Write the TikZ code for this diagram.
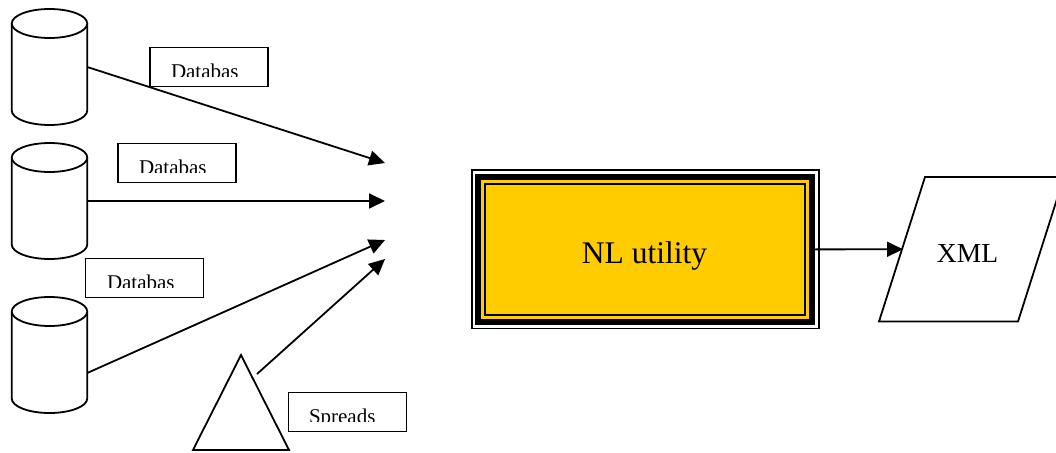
\documentclass[tikz,border=0pt]{standalone}
\usepackage{fontspec}
\setmainfont{Liberation Serif}
\usetikzlibrary{arrows.meta,calc,shapes.geometric}
\definecolor{nlyellow}{HTML}{FFCC00}
\tikzset{
  every node/.style={inner sep=0pt,outer sep=0pt},
  ln/.style={line width=1.8pt,draw=black},
  cylarea/.style={minimum width=75.5pt,minimum height=116pt},
  conn/.style={line width=1.8pt,-{Triangle[length=16pt,width=15pt]}},
  labelbox/.style={ln,fill=white,minimum width=118pt,minimum height=39pt},
  labeltext/.style={anchor=base west,font=\fontsize{21}{25}\selectfont},
}
\newcommand{\cliplabel}[5]{% name, box centre, text pos, clip y, text
  \node[labelbox] (#1) at (#2) {};
  \begin{scope}
    \clip (#1.north west) rectangle (#1.east |- 0,#4);
    \node[labeltext] (#1t) at (#3) {#5};
  \end{scope}
}
\newcommand{\cylshape}[2]{% name, centre
  \node[cylarea] (#1) at (#2) {};
  \coordinate (#1a) at ($(#1.north west)+(0,14.5)$);
  \coordinate (#1b) at ($(#1.south west)+(0,-14.5)$);
  \coordinate (#1c) at ($(#1.north)+(0,14.5)$);
  \draw[ln,fill=white] (#1a) -- (#1b)
    .. controls +(0,8) and +(-20.8,0) .. (#1.south)
    .. controls +(20.8,0) and +(0,8) .. ($(#1.south east)+(0,-14.5)$)
    -- ($(#1.north east)+(0,14.5)$);
  \draw[ln,fill=white] (#1c) ellipse[x radius=37.75pt,y radius=14.5pt];
}
\begin{document}
\begin{tikzpicture}[x=1pt,y=-1pt]
\path[clip] (0,0) rectangle (1056,452);
\fill[white] (0,0) rectangle (1056,452);
% cylinders
\cylshape{db1}{49.5,67}
\cylshape{db2}{49.5,201}
\cylshape{db3}{49.5,355}
% triangle
\node[ln,fill=white,isosceles triangle,shape border rotate=90,isosceles triangle stretches,minimum width=96pt,minimum height=95pt,anchor=lower side] (tri) at (241,450) {};
% free ends of arrows
\coordinate (e1) at (385,163);
\coordinate (e2) at (385,201);
\coordinate (e3) at (385,240);
\coordinate (e4) at (385,259);
% label boxes
\cliplabel{l1}{209,67}{171,78}{76}{Databas}
\cliplabel{l2}{177,163}{139,174}{172}{Databas}
\cliplabel{l3}{144.5,278}{107,289}{287}{Databas}
\cliplabel{l4}{347.5,412}{309,423}{421.5}{Spreads}
% connectors
\draw[conn] (db1.east) -- (e1);
\draw[conn] (db2.east) -- (e2);
\draw[conn] ($(db3.east)+(0,18)$) -- (e3);
\coordinate (tristart) at (257,374);
\draw[conn] (tristart) -- (e4);
% NL utility box
\node[fill=black,minimum width=349pt,minimum height=160pt] (nlo) at (645.3,249.4) {};
\node[fill=white,minimum width=345.6pt,minimum height=156.6pt] (nlw) at (nlo) {};
\node[fill=black,minimum width=340pt,minimum height=151pt] (nlb) at (nlo) {};
\node[fill=nlyellow,minimum width=328pt,minimum height=139pt] (nly) at (nlo) {};
\node[fill=black,minimum width=322pt,minimum height=133pt] (nli) at (nlo) {};
\node[fill=nlyellow,minimum width=318pt,minimum height=129pt] (nl) at (nlo) {};
\node[font=\fontsize{31.5}{36}\selectfont] (nlt) at (644.5,256) {NL utility};
% XML
\coordinate (xa) at (925,177);
\coordinate (xb) at (1064,177);
\coordinate (xc) at (1018,321.5);
\coordinate (xd) at (879,321.5);
\coordinate (xmlw) at ($(xa)!0.5!(xd)$);
\draw[ln,fill=white,line join=miter] (xa) -- (xb) -- (xc) -- (xd) -- cycle;
\node[font=\fontsize{27.5}{32}\selectfont] (xmlt) at (967.5,253) {XML};
\draw[conn] ($(nlo.east)+(-6,0)$) -- ($(xmlw)+(1,0)$);
\end{tikzpicture}
\end{document}
